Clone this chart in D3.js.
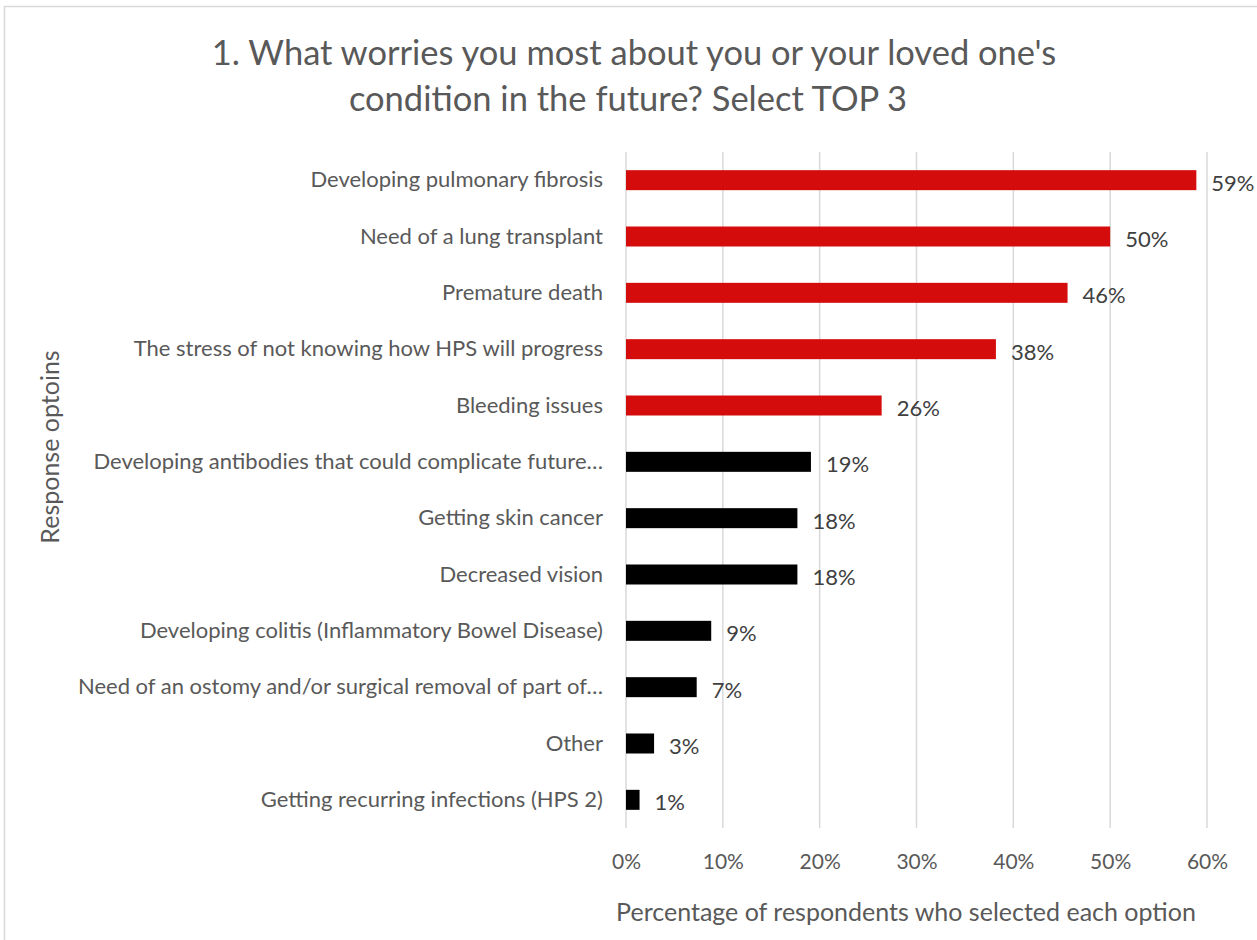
<!DOCTYPE html>
<html><head><meta charset="utf-8">
<script src="https://cdn.jsdelivr.net/npm/d3@7"></script>
<style>html,body{margin:0;padding:0;background:#fff;}svg{display:block;}</style>
</head><body>
<script>
const categories = [
  "Developing pulmonary fibrosis",
  "Need of a lung transplant",
  "Premature death",
  "The stress of not knowing how HPS will progress",
  "Bleeding issues",
  "Developing antibodies that could complicate future…",
  "Getting skin cancer",
  "Decreased vision",
  "Developing colitis (Inflammatory Bowel Disease)",
  "Need of an ostomy and/or surgical removal of part of…",
  "Other",
  "Getting recurring infections (HPS 2)"
];
const values = [0.589, 0.500, 0.456, 0.382, 0.264, 0.191, 0.177, 0.177, 0.088, 0.073, 0.029, 0.014];
const highlighted = [true, true, true, true, true, false, false, false, false, false, false, false];
const xTicks = [0, 0.1, 0.2, 0.3, 0.4, 0.5, 0.6];
const titleLines = ["1. What worries you most about you or your loved one's", "condition in the future? Select TOP 3"];
const xTitle = "Percentage of respondents who selected each option";
const yTitle = "Response optoins";

const W = 1257, H = 940;
const font = "Lato, 'Open Sans', sans-serif";
const svg = d3.select("body").append("svg").attr("width", W).attr("height", H);

svg.append("rect").attr("x", 4.5).attr("y", 6.5).attr("width", W + 10).attr("height", H + 10)
  .attr("fill", "#fff").attr("stroke", "#d9d9d9").attr("stroke-width", 1.5);

const m = {left: 626, right: 1207, top: 152, bottom: 828};
const x = d3.scaleLinear().domain([0, 0.6]).range([m.left, m.right]);
const y = d3.scaleBand().domain(categories).range([m.top, m.bottom]).paddingInner(0.645).paddingOuter(0.3225);

// gridlines
svg.append("g").selectAll("line").data(xTicks).join("line")
  .attr("x1", d => x(d)).attr("x2", d => x(d)).attr("y1", m.top).attr("y2", m.bottom)
  .attr("stroke", "#d9d9d9").attr("stroke-width", 1.5);

// x tick labels
const xAxis = d3.axisBottom(x).tickValues(xTicks).tickFormat(d3.format(".0%")).tickSize(0).tickPadding(0);
const gx = svg.append("g").attr("transform", `translate(0,${m.bottom})`).call(xAxis);
gx.select(".domain").remove();
gx.selectAll("text").attr("y", 41).attr("dy", 0).attr("font-family", font).attr("font-size", 21).attr("fill", "#595959");

// y category labels
const yAxis = d3.axisLeft(y).tickSize(0).tickPadding(23);
const gy = svg.append("g").attr("transform", `translate(${m.left},0)`).call(yAxis);
gy.select(".domain").remove();
gy.selectAll("text").attr("font-family", font).attr("font-size", 22).attr("fill", "#595959");

// bars
svg.append("g").selectAll("rect").data(categories).join("rect")
  .attr("x", x(0)).attr("y", d => y(d))
  .attr("width", (d, i) => x(values[i]) - x(0)).attr("height", y.bandwidth())
  .attr("fill", (d, i) => highlighted[i] ? "#d40c0c" : "#000000");

// data labels
svg.append("g").selectAll("text").data(categories).join("text")
  .attr("x", (d, i) => x(values[i]) + 15).attr("y", d => y(d) + y.bandwidth() / 2 + 2)
  .attr("dominant-baseline", "central")
  .attr("font-family", font).attr("font-size", 22).attr("fill", "#404040")
  .text((d, i) => d3.format(".0%")(values[i]));

// title
svg.append("g").selectAll("text").data(titleLines).join("text")
  .attr("x", (d, i) => i === 0 ? 634 : 628).attr("y", (d, i) => 64.5 + i * 46)
  .attr("text-anchor", "middle").attr("font-family", font).attr("font-size", 34.5).attr("fill", "#595959")
  .text(d => d);

// axis titles
svg.append("text").attr("x", 906).attr("y", 921).attr("text-anchor", "middle")
  .attr("font-family", font).attr("font-size", 25).attr("fill", "#595959").text(xTitle);
svg.append("text").attr("transform", "translate(59,447) rotate(-90)").attr("text-anchor", "middle")
  .attr("font-family", font).attr("font-size", 25).attr("fill", "#595959").text(yTitle);
</script>
</body></html>
